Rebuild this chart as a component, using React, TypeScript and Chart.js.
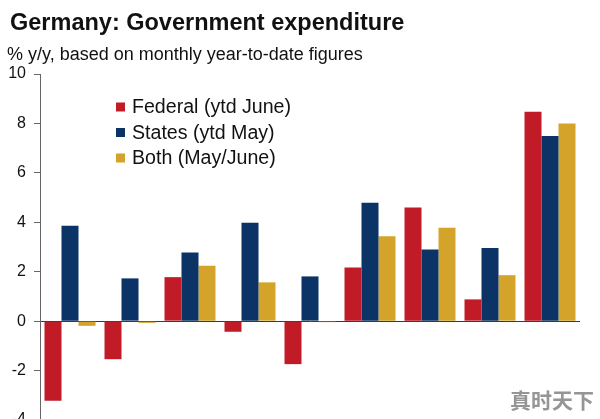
import React, { useEffect, useRef } from "react";
import { Chart, registerables } from "chart.js";

Chart.register(...registerables);

const categories = ["1", "2", "3", "4", "5", "6", "7", "8", "9"];
const federal = [-3.22, -1.54, 1.78, -0.43, -1.74, 2.17, 4.6, 0.88, 8.47];
const states = [3.86, 1.73, 2.78, 3.98, 1.81, 4.79, 2.9, 2.96, 7.49];
const both = [-0.19, -0.07, 2.24, 1.57, -0.04, 3.44, 3.78, 1.86, 8.0];
const seriesNames = ["Federal (ytd June)", "States (ytd May)", "Both (May/June)"];
const seriesColors = ["#C01B27", "#0B3366", "#D4A42A"];
const titleText = "Germany: Government expenditure";
const subtitleText = "% y/y, based on monthly year-to-date figures";
const watermarkText = "真时天下";
const yMin = -4;
const yMax = 10;
const yStep = 2;

const FONT = '"Liberation Sans", Arial, sans-serif';

const overlayPlugin = {
  id: "overlay",
  afterDraw(chart: any) {
    const ctx = chart.ctx;
    ctx.save();
    // title
    ctx.fillStyle = "#111";
    ctx.textBaseline = "alphabetic";
    ctx.textAlign = "left";
    ctx.font = `bold 23.5px ${FONT}`;
    ctx.fillText(titleText, 10, 30);
    ctx.font = `18px ${FONT}`;
    ctx.fillText(subtitleText, 7, 60);
    // legend
    const ds = chart.data.datasets;
    ctx.font = `19.6px ${FONT}`;
    ctx.textBaseline = "middle";
    ds.forEach((d: any, i: number) => {
      const cy = 107 + i * 25.5;
      ctx.fillStyle = d.backgroundColor;
      ctx.fillRect(116, cy - 4.5, 9, 9);
      ctx.fillStyle = "#111";
      ctx.fillText(d.label, 132, cy + 1);
    });
    // watermark
    ctx.font = `bold 21px "Noto Sans CJK SC", sans-serif`;
    ctx.fillStyle = "#959595";
    ctx.textAlign = "right";
    ctx.textBaseline = "alphabetic";
    ctx.fillText(watermarkText, 594, 408);
    ctx.restore();
  },
};

export default function App() {
  const ref = useRef<HTMLCanvasElement | null>(null);
  useEffect(() => {
    document.body.style.margin = "0";
    if (!ref.current) return;
    const chart = new Chart(ref.current, {
      type: "bar",
      data: {
        labels: categories,
        datasets: [federal, states, both].map((vals, i) => ({
          label: seriesNames[i],
          data: vals,
          backgroundColor: seriesColors[i],
          borderWidth: 0,
          categoryPercentage: 0.85,
          barPercentage: 1.0,
        })),
      },
      options: {
        responsive: false,
        animation: false,
        layout: { padding: { top: 74, bottom: 20, left: 0, right: 20 } },
        plugins: {
          legend: { display: false },
          title: { display: false },
          tooltip: { enabled: false },
        },
        scales: {
          x: {
            display: false,
            grid: { display: false },
          },
          y: {
            min: yMin,
            max: yMax,
            afterFit(scale: any) {
              scale.width = 40;
            },
            ticks: {
              stepSize: yStep,
              padding: 8,
              color: "#111",
              font: { family: FONT, size: 16 },
            },
            border: { display: true, color: "#666", width: 1 },
            grid: {
              drawOnChartArea: true,
              tickLength: 6,
              tickColor: "#666",
              color: (c: any) => (c.tick && c.tick.value === 0 ? "#3a3a3a" : "rgba(0,0,0,0)"),
              lineWidth: 1,
            },
          },
        },
      },
      plugins: [overlayPlugin],
    });
    return () => chart.destroy();
  }, []);
  return (
    <div style={{ position: "absolute", left: 0, top: 0, width: 600, height: 419, overflow: "hidden", background: "#fff" }}>
      <canvas ref={ref} width={600} height={440} style={{ width: 600, height: 440, display: "block" }} />
    </div>
  );
}
